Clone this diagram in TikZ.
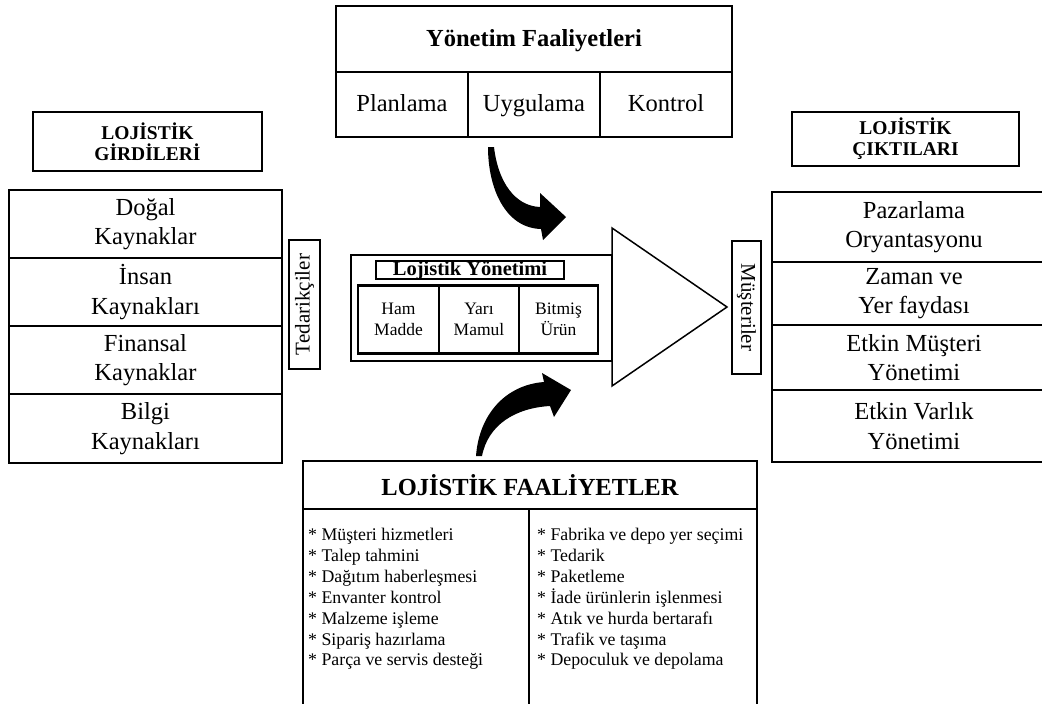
\documentclass[tikz,border=0pt]{standalone}
\usepackage{fontspec}
\setmainfont{Liberation Serif}
\begin{document}
\begin{tikzpicture}[x=1pt,y=-1pt,
  box/.style={draw, line width=1.5pt, inner sep=0pt, align=center, fill=white},
  thickbox/.style={box, line width=2.2pt},
  big/.style={font=\fontsize{24.5}{29.5}\selectfont},
  oneline/.style={text height=18pt, text depth=4pt},
  bigbold/.style={font=\bfseries\fontsize{24.5}{27}\selectfont},
  head/.style={font=\bfseries\fontsize{19.5}{21}\selectfont},
  small/.style={font=\fontsize{17.5}{21}\selectfont},
  side/.style={font=\fontsize{21}{22}\selectfont},
  listtext/.style={inner sep=0pt, align=left, anchor=north west, font=\fontsize{17.8}{20.9}\selectfont},
  curvedarrow/.style={fill=black, draw=none}]
\useasboundingbox (0,0) rectangle (1042,704);

% management activities
\node[box, bigbold, minimum width=396, minimum height=66, oneline, text depth=3pt] (mgmt) at (534,39) {Yönetim Faaliyetleri};
\node[box, big, oneline, minimum width=132, minimum height=65] (plan) at (402,104.5) {Planlama};
\node[box, big, oneline, minimum width=132, minimum height=65] (uyg) at (534,104.5) {Uygulama};
\node[box, big, oneline, minimum width=132, minimum height=65] (kont) at (666,104.5) {Kontrol};

% inputs
\node[box, head, minimum width=229, minimum height=59] (inhead) at (147.5,141.5) {LOJİSTİK\\GİRDİLERİ};
\node[box, big, minimum width=273, minimum height=68] (in1) at (145.5,224) {Doğal\\Kaynaklar};
\node[box, big, minimum width=273, minimum height=68] (in2) at (145.5,292) {İnsan\\Kaynakları};
\node[box, big, minimum width=273, minimum height=68] (in3) at (145.5,360) {Finansal\\Kaynaklar};
\node[box, big, minimum width=273, minimum height=69] (in4) at (145.5,428.5) {Bilgi\\Kaynakları};
\node[box, side, rotate=90, minimum width=129, minimum height=31] (ted) at (304.5,304.5) {Tedarikçiler};

% outputs
\node[box, head, minimum width=227, minimum height=54] (outhead) at (905.5,139) {LOJİSTİK\\ÇIKTILARI};
\node[box, big, minimum width=284, minimum height=70] (out1) at (914,227) {Pazarlama\\Oryantasyonu};
\node[box, big, minimum width=284, minimum height=63] (out2) at (914,293.5) {Zaman ve\\Yer faydası};
\node[box, big, minimum width=284, minimum height=65] (out3) at (914,357.5) {Etkin Müşteri\\Yönetimi};
\node[box, big, minimum width=284, minimum height=72] (out4) at (914,426) {Etkin Varlık\\Yönetimi};
\node[box, side, rotate=-90, minimum width=133, minimum height=29] (mus) at (746.5,307.5) {Müşteriler};

% logistics management body and arrow head
\node[box, minimum width=261, minimum height=106] (ly) at (481.5,308) {};
\coordinate (t1) at (612,228);
\coordinate (t2) at (727,307);
\coordinate (t3) at (612,386);
\draw[line width=1.5pt, fill=white, line join=miter] (t1) -- (t2) -- (t3) -- cycle;
\node[thickbox, font=\bfseries\fontsize{20.5}{22}\selectfont, minimum width=188, minimum height=18, text height=13pt, text depth=2pt] (lytitle) at (470,270) {Lojistik Yönetimi};
\node[thickbox, small, minimum width=81, minimum height=68] (ham) at (398.5,319.5) {Ham\\Madde};
\node[thickbox, small, minimum width=80, minimum height=68] (yari) at (479,319.5) {Yarı\\Mamul};
\node[thickbox, small, minimum width=79, minimum height=68] (bit) at (558.5,319.5) {Bitmiş\\Ürün};

% curved arrows
\fill[curvedarrow] (488,147) -- (494,147) .. controls (498,182) and (515,206) .. (540,207)
  -- (540,193) -- (566,217) -- (543,240) -- (541,229)
  .. controls (505,228) and (488,188) .. (488,147) -- cycle;
\fill[curvedarrow] (476,456) -- (482,456) .. controls (488,425) and (515,408) .. (550,406)
  -- (554,417) -- (571,390) -- (542,373) -- (544,382)
  .. controls (505,385) and (479,415) .. (476,456) -- cycle;

% logistics activities
\node[box, font=\bfseries\fontsize{24.5}{28}\selectfont, minimum width=454, minimum height=48] (acthead) at (530,485) {LOJİSTİK FAALİYETLER};
\node[box, minimum width=226, minimum height=201] (actL) at (416,609.5) {};
\node[box, minimum width=228, minimum height=201] (actR) at (643,609.5) {};
\node[listtext] (listL) at (308,528) {* Müşteri hizmetleri\\* Talep tahmini\\* Dağıtım haberleşmesi\\* Envanter kontrol\\* Malzeme işleme\\* Sipariş hazırlama\\* Parça ve servis desteği};
\node[listtext] (listR) at (537,528) {* Fabrika ve depo yer seçimi\\* Tedarik\\* Paketleme\\* İade ürünlerin işlenmesi\\* Atık ve hurda bertarafı\\* Trafik ve taşıma\\* Depoculuk ve depolama};
\end{tikzpicture}
\end{document}
